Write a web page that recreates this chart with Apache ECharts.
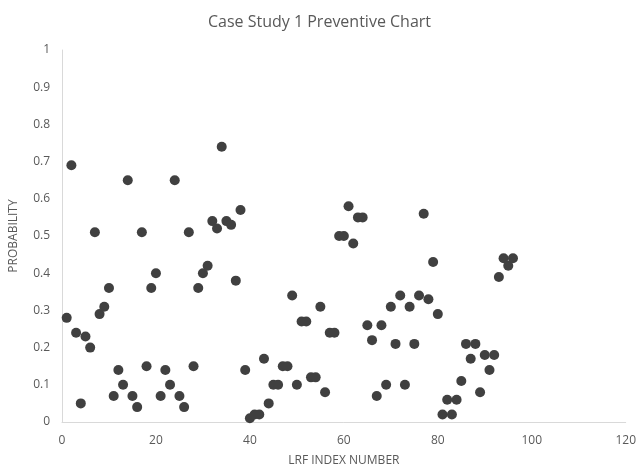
<!DOCTYPE html>
<html>
<head>
<meta charset="utf-8">
<script src="https://cdn.jsdelivr.net/npm/echarts@6/dist/echarts.min.js"></script>
<style>html,body{margin:0;padding:0;background:#fff}#c{width:639px;height:472px}</style>
</head>
<body>
<div id="c"></div>
<script>
var titleText = "Case Study 1 Preventive Chart";
var xName = "LRF INDEX NUMBER";
var yName = "PROBABILITY";
var lrfIndex = [1,2,3,4,5,6,7,8,9,10,11,12,13,14,15,16,17,18,19,20,21,22,23,24,25,26,27,28,29,30,31,32,33,34,35,36,37,38,39,40,41,42,43,44,45,46,47,48,49,50,51,52,53,54,55,56,57,58,59,60,61,62,63,64,65,66,67,68,69,70,71,72,73,74,75,76,77,78,79,80,81,82,83,84,85,86,87,88,89,90,91,92,93,94,95,96];
var probability = [0.28,0.69,0.24,0.05,0.23,0.20,0.51,0.29,0.31,0.36,0.07,0.14,0.10,0.65,0.07,0.04,0.51,0.15,0.36,0.40,0.07,0.14,0.10,0.65,0.07,0.04,0.51,0.15,0.36,0.40,0.42,0.54,0.52,0.74,0.54,0.53,0.38,0.57,0.14,0.01,0.02,0.02,0.17,0.05,0.10,0.10,0.15,0.15,0.34,0.10,0.27,0.27,0.12,0.12,0.31,0.08,0.24,0.24,0.50,0.50,0.58,0.48,0.55,0.55,0.26,0.22,0.07,0.26,0.10,0.31,0.21,0.34,0.10,0.31,0.21,0.34,0.56,0.33,0.43,0.29,0.02,0.06,0.02,0.06,0.11,0.21,0.17,0.21,0.08,0.18,0.14,0.18,0.39,0.44,0.42,0.44];

var points = lrfIndex.map(function(x, i){ return [x, probability[i]]; });
var chart = echarts.init(document.getElementById('c'));
var txt = '#595959';
var font = "'Open Sans', 'Liberation Sans', sans-serif";
chart.setOption({
  animation: false,
  title: {
    text: titleText, left: 'center', top: 9,
    textStyle: {fontFamily: font, fontSize: 16, fontWeight: 'normal', color: txt}
  },
  grid: {left: 60, right: 12, top: 50, bottom: 50},
  xAxis: {
    type: 'value', min: 0, max: 120, interval: 20,
    name: xName, nameLocation: 'middle', nameGap: 33,
    nameTextStyle: {fontFamily: font, fontSize: 12, color: txt},
    axisLine: {show: true, lineStyle: {color: '#d9d9d9'}},
    axisTick: {show: false},
    splitLine: {show: false},
    axisLabel: {fontFamily: font, fontSize: 12, color: txt, margin: 13}
  },
  yAxis: {
    type: 'value', min: 0, max: 1, interval: 0.1,
    name: yName, nameLocation: 'middle', nameGap: 42,
    nameTextStyle: {fontFamily: font, fontSize: 12, color: txt},
    axisLine: {show: true, lineStyle: {color: '#d9d9d9'}},
    axisTick: {show: false},
    splitLine: {show: false},
    axisLabel: {fontFamily: font, fontSize: 12, color: txt, margin: 12,
      formatter: function(v){ return String(Math.round(v*10)/10); }}
  },
  series: [{
    type: 'scatter', data: points, symbol: 'circle', symbolSize: 10,
    itemStyle: {color: '#404040', opacity: 1}
  }]
});
</script>
</body>
</html>
